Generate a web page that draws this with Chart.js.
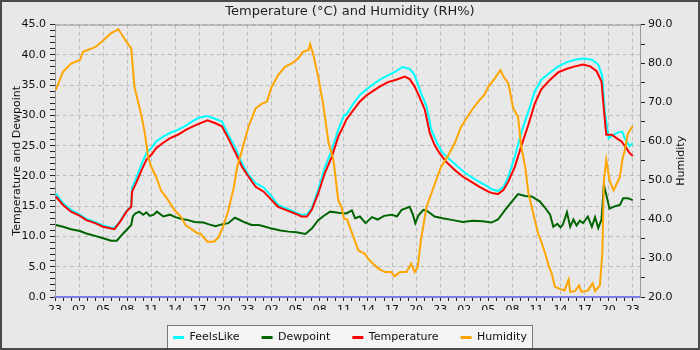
<!DOCTYPE html>
<html>
<head>
<meta charset="utf-8">
<script src="https://cdn.jsdelivr.net/npm/chart.js@4/dist/chart.umd.min.js"></script>
<style>
  html, body { margin: 0; padding: 0; background: #e8e8e8; }
  #wrap { width: 700px; height: 350px; }
</style>
</head>
<body>
<div id="wrap"><canvas id="weatherChart" width="700" height="350"></canvas></div>
<script>
// hours since 23:00 on the first day
const tempHours = [0.1, 1, 2, 3.1, 3.9, 5, 6, 7, 7.4, 8.1, 8.9, 9.5, 9.6, 10.1, 10.8, 11.4, 12, 12.6, 13.4, 14.3, 15.3, 16.3, 17.2, 17.9,
  19, 20, 20.8, 21.6, 22.5, 23.3, 24.1, 25, 26, 26.8, 27.8, 28.9, 29.9, 30.7, 31.4, 32, 32.8, 33.6, 34.5, 35.3, 36,
  36.3, 37.2, 38, 38.8, 39.6, 40.5, 41.5, 42.5, 43.6, 44.2, 44.8, 45.4, 46.1, 46.7, 47.3, 47.9, 48.7, 49.8, 50.8, 51.8, 52.9, 54,
  54.4, 55.2, 55.9, 56.5, 57.3, 58.1, 59, 59.8, 60.6, 61.7, 62.7, 63.8, 64.8, 65.8, 66.7, 67.5, 68.1, 68.4, 68.7, 69.4, 70, 70.6, 71.2, 71.6, 72];
const temperature = [16.6, 15.2, 14.1, 13.4, 12.7, 12.2, 11.6, 11.3, 11.2, 12.4, 14.1, 14.9, 17.4, 18.8, 21, 22.7, 23.5, 24.6, 25.4, 26.2, 26.8, 27.6, 28.2, 28.6,
  29.2, 28.7, 28.2, 26.2, 23.8, 21.5, 19.9, 18.2, 17.4, 16.3, 14.9, 14.3, 13.8, 13.3, 13.3, 14.4, 17.1, 20.4, 23.2, 26.5, 28.4,
  29.3, 30.9, 32.3, 33.3, 34, 34.8, 35.5, 35.9, 36.4, 36, 34.8, 33.1, 30.9, 27.1, 25.1, 23.8, 22.4, 21, 19.9, 19.1, 18.2, 17.4,
  17.2, 17, 17.7, 19.1, 21.5, 24.9, 28.5, 32, 34.3, 35.9, 37.1, 37.7, 38.1, 38.4, 38.1, 37.3, 35.6, 30.9, 26.8, 26.8, 26.2, 25.7, 24.6, 23.8, 23.3];

const feelsHours = [0.1, 1, 2, 3.1, 3.9, 5, 6, 7, 7.4, 8.1, 8.9, 9.5, 9.6, 10.1, 10.8, 11.4, 12, 12.6, 13.4, 14.3, 15.3, 16.3, 17.2, 17.9,
  19, 20, 20.8, 21.6, 22.5, 23.3, 24.1, 25, 26, 26.8, 27.8, 28.9, 29.9, 30.7, 31.4, 32, 32.8, 33.6, 34.5, 35.3, 36,
  36.3, 37.2, 38, 38.8, 39.6, 40.5, 41.5, 42.5, 43.3, 44.2, 44.8, 45.6, 46.3, 46.9, 47.5, 48.3, 49.2, 50.2, 51.2, 52.5, 54,
  54.4, 55.2, 55.9, 56.5, 57.3, 58.1, 59, 59.8, 60.6, 61.7, 62.7, 63.8, 64.8, 65.8, 66.9, 67.7, 68.2, 68.5, 69, 69.6, 70.2, 70.7, 71, 71.6, 72];
const feelsLike = [17.1, 15.5, 14.4, 13.6, 12.9, 12.4, 11.8, 11.5, 11.4, 12.5, 14.2, 15, 18, 19.6, 22, 23.8, 24.6, 25.7, 26.4, 27.1, 27.6, 28.3, 29.1, 29.6,
  29.9, 29.4, 29, 26.8, 24.6, 22.1, 20.2, 18.8, 18.1, 16.9, 15.2, 14.6, 14, 13.6, 13.6, 14.7, 17.7, 21.3, 24.3, 27.6, 30,
  30.1, 32, 33.4, 34.3, 35.1, 35.9, 36.6, 37.3, 38, 37.7, 36.7, 33.7, 31.5, 27.6, 25.7, 23.8, 22.7, 21.5, 20.4, 19.3, 18.2,
  17.8, 17.5, 18.2, 19.9, 23.2, 27.1, 30.7, 34, 35.9, 37.1, 38.1, 38.8, 39.2, 39.4, 39.2, 38.4, 36.5, 30.9, 26.2, 26.8, 27.2, 27.3, 26.2, 24.9, 25.4];

const dewHours = [0.1, 1, 2, 3.1, 3.9, 5, 6, 7, 7.7, 8.5, 9.5, 9.7, 10, 10.5, 11, 11.4, 11.8, 12.3, 12.7, 13.5, 14.3, 15, 15.8, 16.6, 17.4, 18.5,
  19.2, 20, 20.8, 21.6, 22.4, 22.9, 23.7, 24.5, 25.4, 26.2, 27, 28.1, 29.1, 30.1, 31.2, 32, 32.8, 33.6, 34.3, 35.3,
  36.3, 37, 37.4, 38, 38.7, 39.5, 40.2, 41, 42, 42.6, 43.2, 44.2, 44.6, 44.9, 45.3, 45.9, 46.4, 47.3, 48.3, 49.6, 50.8, 52.1, 53.3,
  54.4, 55.2, 56.1, 56.9, 57.7, 58.6, 59.4, 60.4, 61.1, 61.7, 62.1, 62.6, 63, 63.3, 63.8, 64.2, 64.6, 65, 65.4, 65.8, 66.4, 66.9, 67.3, 67.7, 68.1,
  68.4, 68.7, 69.1, 69.8, 70.4, 70.8, 71.4, 72];
const dewpoint = [11.9, 11.6, 11.2, 10.9, 10.5, 10.1, 9.7, 9.3, 9.3, 10.5, 11.9, 13.3, 13.8, 14.1, 13.6, 14, 13.4, 13.6, 14.1, 13.3, 13.6, 13.2, 12.9, 12.7, 12.4, 12.3,
  12, 11.7, 12, 12.2, 13.1, 12.8, 12.3, 11.9, 11.9, 11.6, 11.3, 11, 10.8, 10.7, 10.4, 11.3, 12.7, 13.5, 14.1, 13.9,
  13.8, 14.3, 13, 13.3, 12.2, 13.2, 12.8, 13.4, 13.6, 13.3, 14.4, 14.9, 13.6, 12.2, 13.5, 14.4, 14.2, 13.3, 13, 12.7, 12.4, 12.6, 12.5,
  12.3, 12.8, 14.4, 15.7, 17, 16.7, 16.6, 15.8, 14.7, 13.6, 11.6, 12.1, 11.5, 12, 14, 11.6, 12.8, 11.8, 12.6, 12.2, 13.3, 11.6, 13.2, 11.4, 12.8,
  18.5, 16.9, 14.6, 15, 15.2, 16.3, 16.3, 16];

const humHours = [0.1, 1, 2, 3.1, 3.5, 5, 6, 7, 7.9, 8.9, 9.5, 9.9, 10.3, 10.8, 11.2, 11.6, 12, 12.6, 13.2, 14.1, 14.9, 15.7, 16.3, 17.2, 17.8,
  18.1, 19, 19.8, 20.4, 21, 21.6, 22.3, 22.7, 23.3, 24.1, 25, 25.8, 26.4, 27, 27.8, 28.7, 29.5, 30.3, 30.9, 31.6, 31.8, 32.2, 32.8, 33.4, 34.1, 34.7, 35.3, 35.7, 36,
  36.4, 37.2, 37.8, 38.6, 39, 39.6, 40.3, 41.1, 41.9, 42.3, 43, 43.8, 44.4, 44.8, 45.2, 45.6, 46.3, 46.9, 47.5, 48.1, 48.9, 49.8, 50.6, 51.4, 52.1, 52.9, 53.5, 54,
  54.8, 55.5, 55.9, 56.5, 57.1, 57.7, 58.1, 58.6, 59, 59.4, 59.8, 60.2, 60.6, 61.1, 61.5, 61.9, 62.3, 62.9, 63.5, 64, 64.2, 64.8, 65.3, 65.6, 66.4, 67, 67.3, 67.9,
  68.2, 68.4, 68.7, 69.1, 69.6, 70, 70.4, 70.7, 71, 71.4, 72];
const humidity = [73.2, 77.9, 80, 80.9, 83, 84.2, 85.9, 87.8, 88.8, 85.6, 83.9, 74, 70.6, 66.3, 62, 56, 53.4, 50.9, 47.4, 44.9, 42.3, 40.6, 38.4, 37.2, 36.3,
  36.3, 34.2, 34.2, 35.4, 38.4, 42.3, 48.3, 53.4, 57.7, 63.7, 68.5, 69.7, 70.2, 74, 77, 79.2, 80, 81.3, 83, 83.5, 85, 82.2, 76.6, 69.7, 59.5, 55.2, 44.9, 43.2, 40.2,
  39.9, 35.4, 32, 31.1, 29.9, 28.6, 27.3, 26.4, 26.4, 25.3, 26.4, 26.4, 28.6, 26.4, 27.7, 34.6, 43.2, 46.6, 50, 53.4, 56, 59.5, 63.7, 66.3, 68.5, 70.6, 71.9, 74,
  76.2, 78.3, 76.6, 74.9, 68.5, 66.3, 58.6, 53.4, 46.6, 43.2, 39.7, 36.3, 34.2, 31.1, 28.1, 26, 22.6, 22.1, 21.7, 24.5, 21.3, 21.5, 23, 21.3, 21.7, 23.5, 21.5, 23,
  31.1, 50, 55.2, 50, 47.4, 49.1, 50.9, 55.2, 57.7, 62, 63.9];

const seriesNames = ['FeelsLike', 'Dewpoint', 'Temperature', 'Humidity'];
const seriesColors = ['#00ffff', '#006400', '#ff0000', '#ffa500'];
const startHour = 23;
const hourSpan = 72.9;

const toPoints = (hours, values) => hours.map((h, i) => ({ x: h, y: values[i] }));
const font = { family: 'DejaVu Sans', size: 11 };

const frame = {
  id: 'frame',
  beforeDraw(chart) {
    const { ctx, width, height } = chart;
    ctx.save();
    ctx.fillStyle = '#e8e8e8';
    ctx.fillRect(0, 0, width, height);
    const boxes = chart.legend.legendHitBoxes;
    if (boxes && boxes.length) {
      const first = boxes[0];
      const last = boxes[boxes.length - 1];
      const x0 = Math.round(first.left) - 5.5;
      const x1 = Math.round(last.left + last.width) + 5.5;
      const y0 = Math.round(first.top) - 6.5;
      const y1 = Math.round(first.top + first.height) + 5.5;
      ctx.fillStyle = '#f4f4f4';
      ctx.fillRect(x0, y0, x1 - x0, y1 - y0);
      ctx.strokeStyle = '#777';
      ctx.lineWidth = 1;
      ctx.strokeRect(x0, y0, x1 - x0, y1 - y0);
    }
    ctx.restore();
  },
  beforeDatasetsDraw(chart) {
    const { ctx, chartArea } = chart;
    ctx.save();
    ctx.strokeStyle = '#999';
    ctx.lineWidth = 1;
    ctx.beginPath();
    ctx.moveTo(chartArea.left, chartArea.top + 0.5);
    ctx.lineTo(chartArea.right, chartArea.top + 0.5);
    ctx.stroke();
    // right axis title reads bottom-to-top like the left one
    ctx.translate(681, (chartArea.top + chartArea.bottom) / 2);
    ctx.rotate(-Math.PI / 2);
    ctx.fillStyle = '#111';
    ctx.font = '11px "DejaVu Sans"';
    ctx.textAlign = 'center';
    ctx.textBaseline = 'middle';
    ctx.fillText('Humidity', 0, 0);
    ctx.restore();
  },
  afterDraw(chart) {
    const { ctx, width, height } = chart;
    ctx.save();
    ctx.strokeStyle = '#4a4a4a';
    ctx.lineWidth = 2;
    ctx.strokeRect(1, 1, width - 2, height - 2);
    ctx.restore();
  }
};

const datasets = [
  { data: toPoints(feelsHours, feelsLike), yAxisID: 'y', order: 4 },
  { data: toPoints(dewHours, dewpoint), yAxisID: 'y', order: 3 },
  { data: toPoints(tempHours, temperature), yAxisID: 'y', order: 2 },
  { data: toPoints(humHours, humidity), yAxisID: 'y1', order: 1 }
].map((d, i) => ({
  ...d,
  label: seriesNames[i],
  borderColor: seriesColors[i],
  backgroundColor: seriesColors[i],
  borderWidth: 2,
  pointRadius: 0,
  tension: 0
}));

new Chart(document.getElementById('weatherChart'), {
  type: 'line',
  data: { datasets },
  plugins: [frame],
  options: {
    responsive: false,
    animation: false,
    layout: { padding: { top: 0, left: 0, right: 0, bottom: -3 } },
    plugins: {
      title: {
        display: true,
        text: 'Temperature (°C) and Humidity (RH%)',
        color: '#222',
        font: { family: 'DejaVu Sans', size: 13, weight: 'normal' },
        padding: { top: 4, bottom: 5 }
      },
      legend: {
        position: 'bottom',
        labels: {
          color: '#111',
          font,
          boxWidth: 11,
          boxHeight: 3,
          padding: 22,
          sort: (a, b) => a.datasetIndex - b.datasetIndex,
          generateLabels: (chart) => Chart.defaults.plugins.legend.labels.generateLabels(chart).map(l => ({ ...l, lineWidth: 0 }))
        }
      },
      tooltip: { enabled: false }
    },
    scales: {
      x: {
        type: 'linear',
        min: 0,
        max: hourSpan,
        afterFit: (s) => { s.height = 13; },
        border: { color: '#7b7bea', width: 2, dash: [4, 3] },
        grid: {
          color: (c) => c.tick && c.tick.value % 3 === 0 ? '#bdbdbd' : 'rgba(0,0,0,0)',
          tickColor: '#222',
          tickLength: 4,
          tickBorderDash: []
        },
        ticks: {
          stepSize: 1,
          includeBounds: false,
          autoSkip: false,
          maxRotation: 0,
          padding: 3,
          color: '#111',
          font,
          callback: (v) => v % 3 === 0 ? String((startHour + v) % 24).padStart(2, '0') : ''
        }
      },
      y: {
        position: 'left',
        min: 0,
        max: 45,
        afterFit: (s) => { s.width = 55; },
        border: { color: '#999', dash: [4, 3] },
        grid: {
          color: (c) => c.tick && c.tick.value % 5 === 0 ? '#bdbdbd' : 'rgba(0,0,0,0)',
          tickColor: '#222',
          tickLength: 5,
          tickBorderDash: []
        },
        title: { display: true, text: 'Temperature and Dewpoint', color: '#111', font, padding: { top: 11, bottom: 0 } },
        ticks: {
          stepSize: 1,
          autoSkip: false,
          padding: 4,
          color: '#111',
          font,
          callback: (v) => v % 5 === 0 ? v.toFixed(1) : ''
        }
      },
      y1: {
        position: 'right',
        min: 20,
        max: 90,
        afterFit: (s) => { s.width = 60; },
        border: { color: '#999' },
        grid: { drawOnChartArea: false, tickColor: '#222', tickLength: 5 },
        ticks: {
          stepSize: 5,
          autoSkip: false,
          padding: 3,
          color: '#111',
          font,
          callback: (v) => v % 10 === 0 ? v.toFixed(1) : ''
        }
      }
    }
  }
});
</script>
</body>
</html>
